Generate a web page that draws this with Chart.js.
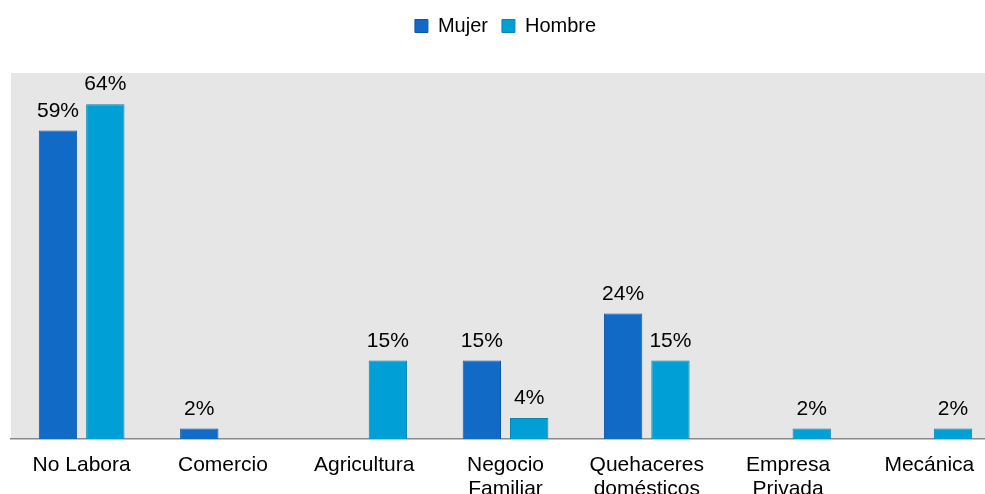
<!DOCTYPE html>
<html>
<head>
<meta charset="utf-8">
<script src="https://cdn.jsdelivr.net/npm/chart.js@4/dist/chart.umd.min.js"></script>
<style>
  html, body { margin: 0; padding: 0; background: #ffffff; overflow: hidden; }
  #wrap { width: 1000px; height: 517px; position: relative; }
</style>
</head>
<body>
<div id="wrap"><canvas id="chart"></canvas></div>
<script>
"use strict"

// data
const categories = ["No Labora", "Comercio", "Agricultura", ["Negocio", "Familiar"], ["Quehaceres", "domésticos"], ["Empresa", "Privada"], "Mecánica"];
const mujer = [59, 2, null, 15, 24, null, null];
const hombre = [64, null, 15, 4, 15, 2, 2];
const seriesNames = ["Mujer", "Hombre"];

Chart.defaults.font.family = "'Liberation Sans', Arial, sans-serif";
Chart.defaults.color = "#000000";

// gray plot background
const plotBg = {
    id: "plotBg",
    beforeDraw(chart) {
        const a = chart.chartArea;
        const ctx = chart.ctx;
        ctx.save();
        ctx.fillStyle = "#e6e6e6";
        ctx.fillRect(a.left, a.top, a.right - a.left, a.bottom - a.top);
        ctx.restore();
    }
};

// percent labels over the bars
const barLabels = {
    id: "barLabels",
    afterDatasetsDraw(chart) {
        const ctx = chart.ctx;
        ctx.save();
        ctx.font = "21px 'Liberation Sans', Arial, sans-serif";
        ctx.fillStyle = "#000";
        ctx.textAlign = "center";
        ctx.textBaseline = "alphabetic";
        chart.data.datasets.forEach((ds, i) => {
            chart.getDatasetMeta(i).data.forEach((bar, j) => {
                const v = ds.data[j];
                if (v == null) return;
                ctx.fillText(v + "%", bar.x, bar.y - 14);
            });
        });
        ctx.restore();
    }
};

// extra room under the legend
const legendGap = {
    id: "legendGap",
    beforeInit(chart) {
        const fit = chart.legend.fit;
        chart.legend.fit = function () {
            fit.bind(chart.legend)();
            this.height += 27;
        };
    }
};

new Chart(document.getElementById("chart"), {
    type: "bar",
    data: {
        labels: categories,
        datasets: [{
            label: seriesNames[0],
            data: mujer,
            backgroundColor: "#116bc6",
            borderColor: "#0d57a3",
            borderWidth: 1,
            categoryPercentage: 0.67,
            barPercentage: 0.81
        }, {
            label: seriesNames[1],
            data: hombre,
            backgroundColor: "#00a0d7",
            borderColor: "#0a84b2",
            borderWidth: 1,
            categoryPercentage: 0.67,
            barPercentage: 0.81
        }]
    },
    options: {
        responsive: true,
        maintainAspectRatio: false,
        animation: false,
        layout: { padding: { left: 11, right: 0, top: 2, bottom: 10 } },
        plugins: {
            tooltip: { enabled: false },
            legend: {
                position: "top",
                labels: {
                    boxWidth: 13,
                    boxHeight: 13,
                    padding: 14,
                    font: { size: 20 },
                    color: "#000"
                }
            }
        },
        scales: {
            x: {
                grid: { display: false },
                border: { color: "#898989", width: 1.5 },
                ticks: {
                    font: { size: 21, lineHeight: 1.143 },
                    color: "#000",
                    padding: 6,
                    maxRotation: 0,
                    autoSkip: false
                }
            },
            y: {
                display: false,
                min: 0,
                max: 70
            }
        }
    },
    plugins: [plotBg, barLabels, legendGap]
});
</script>
</body>
</html>
